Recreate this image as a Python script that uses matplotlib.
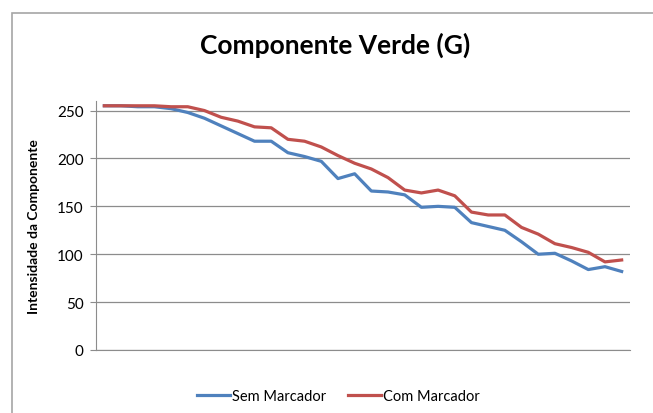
import matplotlib.pyplot as plt
import matplotlib.patches as mpatches

plt.rcParams['font.family'] = ['Lato', 'DejaVu Sans']

pontos = list(range(1, 33))

sem_marcador = [255, 255, 254, 254, 252, 248, 242, 234, 226, 218, 218, 206, 202, 197, 179, 184,
                166, 165, 162, 149, 150, 149, 133, 129, 125, 113, 100, 101, 93, 84, 87, 82]
com_marcador = [255, 255, 255, 255, 254, 254, 250, 243, 239, 233, 232, 220, 218, 212, 203, 195,
                189, 180, 167, 164, 167, 161, 144, 141, 141, 128, 121, 111, 107, 102, 92, 94]

y_ticks = [0, 50, 100, 150, 200, 250]

fig = plt.figure(figsize=(6.53, 4.14), dpi=100)

# borda da área do gráfico (estilo Excel)
borda = mpatches.Rectangle((12 / 653, -0.1), 1.2, 0.1 + (414 - 14) / 414, transform=fig.transFigure,
                           fill=False, edgecolor='#a6a6a6', linewidth=1.2)
fig.patches.append(borda)

ax = fig.add_axes([96 / 653, (414 - 351) / 414, (630 - 96) / 653, (351 - 102) / 414])

ax.plot(pontos, sem_marcador, color='#4f81bd', linewidth=2.3, label='Sem Marcador')
ax.plot(pontos, com_marcador, color='#c0504d', linewidth=2.3, label='Com Marcador')

ax.set_xlim(0.5, 32.5)
ax.set_ylim(0, 260)
ax.set_yticks(y_ticks)
ax.set_xticks([])
ax.grid(True, axis='y', color='#8c8c8c', linewidth=0.9)
ax.set_axisbelow(True)

for lado in ['top', 'right']:
    ax.spines[lado].set_visible(False)
ax.spines['left'].set_color('#8c8c8c')
ax.spines['bottom'].set_color('#8c8c8c')
ax.tick_params(axis='y', length=4, color='#8c8c8c', labelsize=11, pad=5)

ax.set_ylabel('Intensidade da Componente', fontsize=10, fontweight='bold', labelpad=12)

fig.text(335 / 653, 1 - 45 / 414, 'Componente Verde (G)', fontsize=19, fontweight='bold',
         ha='center', va='center')

fig.legend(loc='center', bbox_to_anchor=(338 / 653, 1 - 397 / 414), ncol=2, frameon=False,
           fontsize=10.5, handlelength=2.3, handletextpad=0.1, columnspacing=1.5)

plt.savefig('out.png', dpi=100)
